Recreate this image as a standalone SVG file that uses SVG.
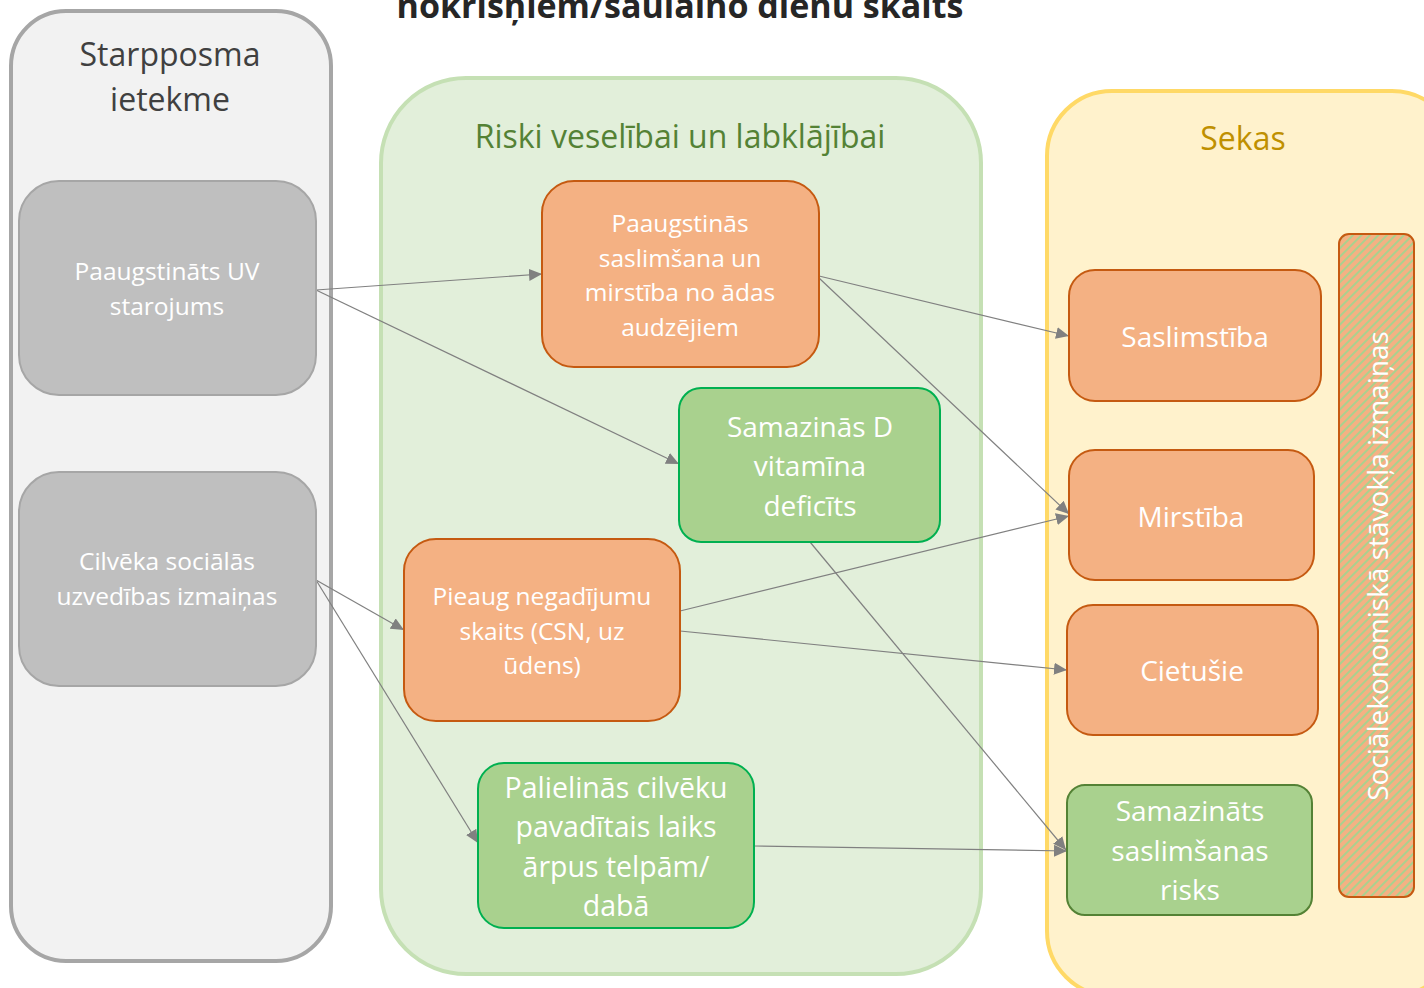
<svg xmlns="http://www.w3.org/2000/svg" width="1424" height="988" viewBox="0 0 1424 988">
  <defs>
    <style>
      .f { font-family: "Open Sans", "Noto Sans", "Liberation Sans", sans-serif; }
      .wt { fill: #ffffff; text-anchor: middle; }
      .grp-title { text-anchor: middle; font-size: 32px; }
      .grey { fill: #bfbfbf; stroke: #a6a6a6; stroke-width: 2; }
      .orange { fill: #f4b183; stroke: #c55a11; stroke-width: 2; }
      .green { fill: #a9d18e; stroke: #00b050; stroke-width: 2; }
      .green2 { fill: #a9d18e; stroke: #548235; stroke-width: 2; }
      .link { fill: none; stroke: #808080; stroke-width: 1.2; marker-end: url(#arrow); }
    </style>
    <marker id="arrow" markerUnits="userSpaceOnUse" markerWidth="14" markerHeight="12" refX="13" refY="6" orient="auto">
      <path d="M0,0 L13,6 L0,12 Z" fill="#808080"/>
    </marker>
    <pattern id="stripes" patternUnits="userSpaceOnUse" width="6" height="6" patternTransform="rotate(45)">
      <rect width="6" height="6" fill="#f4b183"/>
      <rect width="2" height="6" fill="#a9d18e"/>
    </pattern>
  </defs>

  <rect width="1424" height="988" fill="#ffffff"/>

  <!-- heading, clipped by the top edge -->
  <text class="f" x="680" y="18" text-anchor="middle" font-size="34" font-weight="bold" fill="#262626">nokrisņiem/saulaino dienu skaits</text>

  <!-- group containers -->
  <g id="group-intermediate">
    <rect x="11" y="11" width="320" height="950" rx="55" fill="#f2f2f2" stroke="#a6a6a6" stroke-width="4"/>
    <text class="f grp-title" fill="#404040"><tspan x="170" y="66">Starpposma</tspan><tspan x="170" y="111">ietekme</tspan></text>
  </g>
  <g id="group-risks">
    <rect x="381" y="78" width="600" height="896" rx="85" fill="#e2efda" stroke="#c5e0b4" stroke-width="4"/>
    <text class="f grp-title" x="680" y="148" fill="#548235">Riski veselībai un labklājībai</text>
  </g>
  <g id="group-effects">
    <rect x="1047" y="91" width="410" height="905" rx="65" fill="#fff2cc" stroke="#ffd966" stroke-width="4"/>
    <text class="f grp-title" x="1243" y="150" fill="#bf9000">Sekas</text>
  </g>

  <!-- connectors -->
  <g id="connectors">
    <line class="link" x1="316" y1="290" x2="542" y2="274"/>
    <line class="link" x1="316" y1="290" x2="679" y2="464"/>
    <line class="link" x1="316" y1="580" x2="404" y2="630"/>
    <line class="link" x1="316" y1="580" x2="478" y2="843"/>
    <line class="link" x1="819" y1="276" x2="1069" y2="336"/>
    <line class="link" x1="819" y1="278" x2="1069" y2="514"/>
    <line class="link" x1="680" y1="611" x2="1069" y2="516"/>
    <line class="link" x1="680" y1="631" x2="1067" y2="670"/>
    <line class="link" x1="810" y1="542" x2="1066" y2="850"/>
    <line class="link" x1="754" y1="846" x2="1067" y2="851"/>
  </g>

  <!-- left column -->
  <g id="node-uv">
    <rect class="grey" x="19" y="181" width="297" height="214" rx="40"/>
    <text class="f wt" font-size="24.5"><tspan x="167" y="280">Paaugstināts UV</tspan><tspan x="167" y="315">starojums</tspan></text>
  </g>
  <g id="node-behaviour">
    <rect class="grey" x="19" y="472" width="297" height="214" rx="40"/>
    <text class="f wt" font-size="24.5"><tspan x="167" y="570">Cilvēka sociālās</tspan><tspan x="167" y="605">uzvedības izmaiņas</tspan></text>
  </g>

  <!-- middle column -->
  <g id="node-skin">
    <rect class="orange" x="542" y="181" width="277" height="186" rx="32"/>
    <text class="f wt" font-size="24.5"><tspan x="680" y="232">Paaugstinās</tspan><tspan x="680" y="267">saslimšana un</tspan><tspan x="680" y="301">mirstība no ādas</tspan><tspan x="680" y="336">audzējiem</tspan></text>
  </g>
  <g id="node-vitamin">
    <rect class="green" x="679" y="388" width="261" height="154" rx="22"/>
    <text class="f wt" font-size="28"><tspan x="810" y="437">Samazinās D</tspan><tspan x="810" y="476">vitamīna</tspan><tspan x="810" y="516">deficīts</tspan></text>
  </g>
  <g id="node-accidents">
    <rect class="orange" x="404" y="539" width="276" height="182" rx="32"/>
    <text class="f wt" font-size="24.5"><tspan x="542" y="605">Pieaug negadījumu</tspan><tspan x="542" y="640">skaits (CSN, uz</tspan><tspan x="542" y="674">ūdens)</tspan></text>
  </g>
  <g id="node-outdoors">
    <rect class="green" x="478" y="763" width="276" height="165" rx="26"/>
    <text class="f wt" font-size="28.5"><tspan x="616" y="798">Palielinās cilvēku</tspan><tspan x="616" y="837">pavadītais laiks</tspan><tspan x="616" y="877">ārpus telpām/</tspan><tspan x="616" y="916">dabā</tspan></text>
  </g>

  <!-- right column -->
  <g id="node-morbidity">
    <rect class="orange" x="1069" y="270" width="252" height="131" rx="26"/>
    <text class="f wt" x="1195" y="347" font-size="28">Saslimstība</text>
  </g>
  <g id="node-mortality">
    <rect class="orange" x="1069" y="450" width="245" height="130" rx="26"/>
    <text class="f wt" x="1191" y="527" font-size="28">Mirstība</text>
  </g>
  <g id="node-injured">
    <rect class="orange" x="1067" y="605" width="251" height="130" rx="26"/>
    <text class="f wt" x="1192" y="681" font-size="28">Cietušie</text>
  </g>
  <g id="node-lower-risk">
    <rect class="green2" x="1067" y="785" width="245" height="130" rx="18"/>
    <text class="f wt" font-size="28"><tspan x="1190" y="821">Samazināts</tspan><tspan x="1190" y="861">saslimšanas</tspan><tspan x="1190" y="900">risks</tspan></text>
  </g>
  <g id="node-socioeconomic">
    <rect x="1339" y="234" width="75" height="663" rx="10" fill="url(#stripes)" stroke="#c55a11" stroke-width="2"/>
    <text class="f wt" font-size="28" transform="translate(1388,566) rotate(-90)" x="0" y="0">Sociālekonomiskā stāvokļa izmaiņas</text>
  </g>
</svg>
